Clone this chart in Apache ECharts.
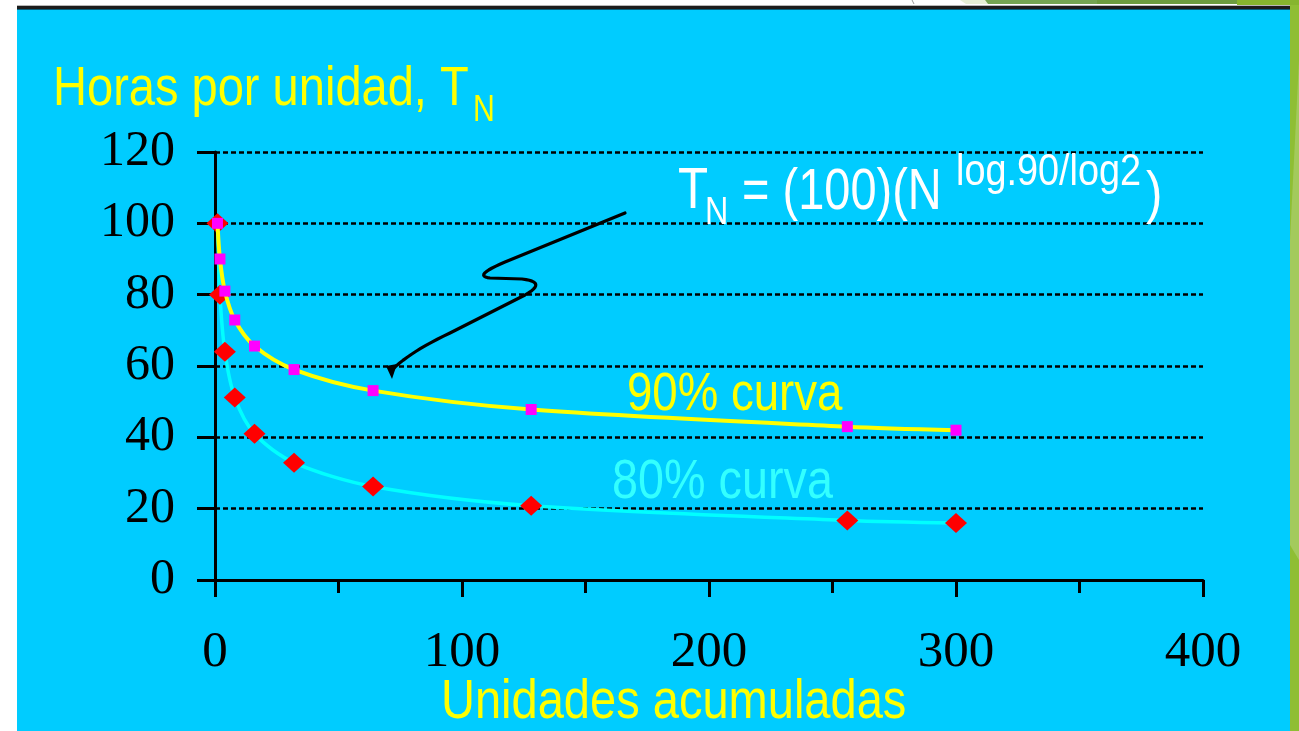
<!DOCTYPE html>
<html>
<head>
<meta charset="utf-8">
<title>Curvas de aprendizaje</title>
<script src="https://cdn.jsdelivr.net/npm/echarts@6/dist/echarts.min.js"></script>
<style>
  html, body { margin: 0; padding: 0; background: #ffffff; }
  #chart { width: 1299px; height: 731px; }
</style>
</head>
<body>
<div id="chart"></div>
<script>
// Unidades acumuladas (N) en las que se marca cada punto
const units = [1, 2, 4, 8, 16, 32, 64, 128, 256, 300];
// Horas por unidad con curva de aprendizaje del 90 %
const horas90 = [100, 90, 81, 72.9, 65.6, 59, 53.1, 47.8, 43, 42];
// Horas por unidad con curva de aprendizaje del 80 %
const horas80 = [100, 80, 64, 51.2, 41, 32.9, 26.2, 20.8, 16.7, 16];
// Marcas de los ejes
const xTicks = [0, 100, 200, 300, 400];
const yTicks = [0, 20, 40, 60, 80, 100, 120];

const pairs = (xs, ys) => xs.map((x, i) => [x, ys[i]]);

const sansFont = "'Liberation Sans', Arial, Helvetica, sans-serif";
const serifFont = "'Liberation Serif', 'Times New Roman', serif";

// Texto condensado horizontalmente (como en la diapositiva)
function label(text, x, y, size, color, sx) {
  return {
    type: 'text', x: x, y: y, scaleX: sx, z: 100,
    style: {
      text: text, x: 0, y: 0, fill: color,
      fontSize: size, fontFamily: sansFont,
      align: 'left', verticalAlign: 'middle'
    }
  };
}

// Trazo de la flecha: tramos rectos y curvas cuadráticas convertidos en polilínea
function arrowPoints() {
  const segs = [
    ['L', [625, 213], [505, 262]],
    ['Q', [505, 262], [472, 276], [490, 278]],
    ['L', [490, 278], [522, 279]],
    ['Q', [522, 279], [548, 282], [525, 295]],
    ['L', [525, 295], [450, 333]],
    ['Q', [450, 333], [410, 352], [393, 369]]
  ];
  const pts = [];
  segs.forEach(s => {
    if (s[0] === 'L') {
      pts.push(s[1], s[2]);
    } else {
      const [p0, c, p1] = [s[1], s[2], s[3]];
      for (let i = 0; i <= 12; i++) {
        const t = i / 12, u = 1 - t;
        pts.push([u * u * p0[0] + 2 * u * t * c[0] + t * t * p1[0],
                  u * u * p0[1] + 2 * u * t * c[1] + t * t * p1[1]]);
      }
    }
  });
  return pts;
}

const chart = echarts.init(document.getElementById('chart'), null, { renderer: 'canvas' });

const option = {
  backgroundColor: '#ffffff',
  animation: false,
  grid: { left: 215, top: 152, width: 988, height: 428 },
  xAxis: {
    type: 'value',
    min: xTicks[0],
    max: xTicks[xTicks.length - 1],
    interval: xTicks[1] - xTicks[0],
    axisLine: { show: true, lineStyle: { color: '#000', width: 3 } },
    axisTick: { show: true, inside: false, length: 17, lineStyle: { color: '#000', width: 3 } },
    minorTick: { show: true, splitNumber: 2, length: 13, lineStyle: { color: '#000', width: 3 } },
    splitLine: { show: false },
    axisLabel: { color: '#000', fontFamily: serifFont, fontSize: 51, margin: 47 }
  },
  yAxis: {
    type: 'value',
    min: yTicks[0],
    max: yTicks[yTicks.length - 1],
    interval: yTicks[1] - yTicks[0],
    axisLine: { show: true, lineStyle: { color: '#000', width: 3 } },
    axisTick: { show: true, inside: false, length: 18, lineStyle: { color: '#000', width: 3 } },
    splitLine: { show: true, lineStyle: { color: '#000', width: 2.5, type: [5, 3] } },
    axisLabel: { color: '#000', fontFamily: serifFont, fontSize: 50, margin: 40 }
  },
  series: [
    {
      name: '80% curva',
      type: 'line',
      data: pairs(units, horas80),
      smooth: 0.3,
      lineStyle: { color: '#00ffff', width: 3.5 },
      symbol: 'diamond',
      symbolSize: [22, 20],
      itemStyle: { color: '#ff0000' },
      z: 3
    },
    {
      name: '90% curva',
      type: 'line',
      data: pairs(units, horas90),
      smooth: 0.3,
      lineStyle: { color: '#ffff00', width: 4 },
      symbol: 'rect',
      symbolSize: 11,
      itemStyle: { color: '#ff00ff' },
      z: 4
    }
  ],
  graphic: [
    // fondo de la diapositiva
    { type: 'rect', z: -100, shape: { x: 17, y: 10, width: 1273, height: 721 }, style: { fill: '#00ccff' } },
    { type: 'rect', z: -99, shape: { x: 17, y: 5, width: 1273, height: 1 }, style: { fill: '#b8b8b8' } },
    { type: 'rect', z: -99, shape: { x: 17, y: 6, width: 1273, height: 3 }, style: { fill: '#1c1c1c' } },
    { type: 'rect', z: -99, shape: { x: 17, y: 9, width: 1273, height: 1 }, style: { fill: '#06607e' } },
    { type: 'rect', z: -99, shape: { x: 1290, y: 0, width: 9, height: 731 }, style: { fill: '#8fbe34' } },
    { type: 'polygon', z: -98, shape: { points: [[1290, 240], [1299, 60], [1299, 560], [1290, 545]] }, style: { fill: '#a3ca5c' } },
    { type: 'polygon', z: -98, shape: { points: [[960, 0], [985, 0], [988, 4], [966, 4]] }, style: { fill: '#e6efd6' } },
    { type: 'polygon', z: -98, shape: { points: [[985, 0], [1097, 0], [1097, 4], [988, 4]] }, style: { fill: '#74a452' } },
    { type: 'rect', z: -98, shape: { x: 1097, y: 0, width: 140, height: 4 }, style: { fill: '#6c9c40' } },
    { type: 'rect', z: -98, shape: { x: 1237, y: 0, width: 62, height: 5 }, style: { fill: '#86b52e' } },
    { type: 'line', z: -98, shape: { x1: 912, y1: 0, x2: 914, y2: 4 }, style: { stroke: '#9a9a9a', lineWidth: 1 } },

    // títulos de los ejes
    label('Horas por unidad, T', 53, 90, 56, '#ffff00', 0.84),
    label('N', 473, 111, 36, '#ffff00', 0.84),
    label('Unidades acumuladas', 441, 703, 55, '#ffff00', 0.855),

    // fórmula
    label('T', 678, 192, 58, '#ffffff', 0.85),
    label('N', 705, 214, 38, '#ffffff', 0.85),
    label('= (100)(N', 742, 193, 58, '#ffffff', 0.81),
    label('log.90/log2', 956, 173, 44, '#ffffff', 0.86),
    label(')', 1146, 196, 58, '#ffffff', 0.85),

    // etiquetas de las curvas
    label('90% curva', 627, 395, 53, '#ffff00', 0.86),
    label('80% curva', 612, 483, 55, '#33ffff', 0.85),

    // flecha que señala la curva del 90 %
    {
      type: 'polyline', z: 90,
      shape: { points: arrowPoints() },
      style: { stroke: '#000000', lineWidth: 3.2, fill: null, lineCap: 'round', lineJoin: 'round' }
    },
    {
      type: 'polygon', z: 91,
      shape: { points: [[386, 366], [397, 364], [392, 379]] },
      style: { fill: '#000000' }
    }
  ]
};

chart.setOption(option);
</script>
</body>
</html>
